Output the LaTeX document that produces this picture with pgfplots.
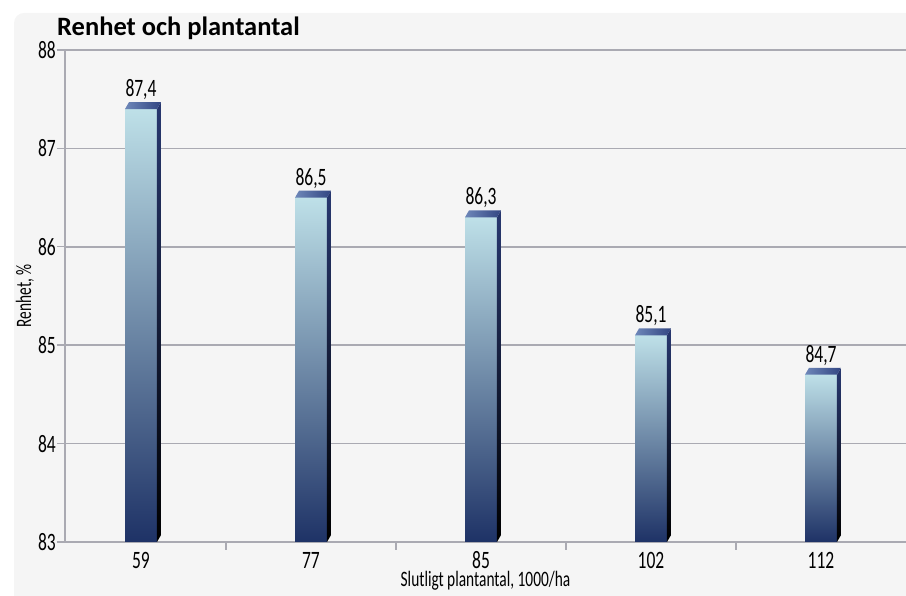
\documentclass[border=0pt]{standalone}
\usepackage{fontspec}
\setmainfont{Carlito}[FakeStretch=0.7]
\newfontfamily\titlefont{Carlito}
\usepackage{pgfplots}
\usepackage{pgfplotstable}
\pgfplotsset{compat=1.18}
\definecolor{bg}{RGB}{245,245,245}
\definecolor{gridc}{RGB}{170,170,178}
\definecolor{barTop}{RGB}{190,224,232}
\definecolor{barMid}{RGB}{110,138,176}
\definecolor{barBot}{RGB}{30,50,102}
\definecolor{sideTop}{RGB}{40,56,112}
\definecolor{topL}{RGB}{110,135,185}
\definecolor{topR}{RGB}{50,70,130}
\pgfplotstableread{
x v
0 87.4
1 86.5
2 86.3
3 85.1
4 84.7
}\datatable
\pgfplotsset{frontbar/.style={ybar, bar width=0.188, draw=none,
  top color=barTop, middle color=barMid, bottom color=barBot,
  point meta=explicit, nodes near coords,
  nodes near coords style={font=\fontsize{25}{25}\selectfont, text=black, anchor=south, inner sep=0pt, yshift=9pt}},
  sideface/.style={draw=none, top color=sideTop, bottom color=black},
  topface/.style={draw=none, left color=topL, right color=topR}}
\begin{document}
\begin{tikzpicture}[x=1pt,y=1pt]
\useasboundingbox (0,0) rectangle (906,596);
\fill[bg, rounded corners=10pt] (14,-20) rectangle (940,583);
\node[anchor=base west, inner sep=0pt, font=\titlefont\bfseries\fontsize{26.5}{26.5}\selectfont] at (57,560) {Renhet och plantantal};
\begin{axis}[
  at={(65pt,54pt)}, anchor=south west, scale only axis,
  width=841pt, height=492pt,
  xmin=-0.447, xmax=4.5, ymin=0, ymax=5,
  y filter/.expression={y-83},
  axis x line*=bottom, axis y line*=left,
  axis line style={gridc, line width=1.6pt, -},
  ymajorgrids, grid style={gridc, line width=1.6pt},
  tick align=outside, major tick length=8pt,
  tick style={gridc, line width=1.4pt},
  ytick={0,1,2,3,4,5}, yticklabels={83,84,85,86,87,88},
  xtick={0.5,1.5,2.5,3.5}, xticklabels={},
  extra x ticks={0,1,2,3,4}, extra x tick labels={59,77,85,102,112},
  extra x tick style={major tick length=0pt, grid=none},
  ticklabel style={font=\fontsize{25}{25}\selectfont, text=black},
  yticklabel style={inner sep=1pt},
  xticklabel style={inner sep=0pt, text height=16pt, text depth=0pt, yshift=-10pt},
  /pgf/number format/.cd, use comma, fixed, fixed zerofill, precision=1, assume math mode=true,
  /pgfplots/.cd,
  xlabel={Slutligt plantantal, 1000/ha},
  ylabel={Renhet, \%},
  x label style={font=\fontsize{22}{22}\selectfont, text=black, inner sep=0pt, text height=15pt, text depth=4pt, at={(axis description cs:0.5,-0.08)}, anchor=center},
  y label style={font=\fontsize{22}{22}\selectfont, text=black, at={(axis description cs:-0.0476,0.5)}, anchor=center},
]
\addplot[frontbar, restrict x to domain=-0.1:0.1] table[x=x, y=v, meta=v] {\datatable};
\addplot[frontbar, restrict x to domain=0.9:1.1] table[x=x, y=v, meta=v] {\datatable};
\addplot[frontbar, restrict x to domain=1.9:2.1] table[x=x, y=v, meta=v] {\datatable};
\addplot[frontbar, restrict x to domain=2.9:3.1] table[x=x, y=v, meta=v] {\datatable};
\addplot[frontbar, restrict x to domain=3.9:4.1] table[x=x, y=v, meta=v] {\datatable};
% side faces
\addplot[sideface] coordinates {(0.094,83) (0.1175,83.07) (0.1175,87.47) (0.094,87.4)};
\addplot[sideface] coordinates {(1.094,83) (1.1175,83.07) (1.1175,86.57) (1.094,86.5)};
\addplot[sideface] coordinates {(2.094,83) (2.1175,83.07) (2.1175,86.37) (2.094,86.3)};
\addplot[sideface] coordinates {(3.094,83) (3.1175,83.07) (3.1175,85.17) (3.094,85.1)};
\addplot[sideface] coordinates {(4.094,83) (4.1175,83.07) (4.1175,84.77) (4.094,84.7)};
% top faces
\addplot[topface] coordinates {(-0.094,87.4) (0.094,87.4) (0.1175,87.47) (-0.0705,87.47)};
\addplot[topface] coordinates {(0.906,86.5) (1.094,86.5) (1.1175,86.57) (0.9295,86.57)};
\addplot[topface] coordinates {(1.906,86.3) (2.094,86.3) (2.1175,86.37) (1.9295,86.37)};
\addplot[topface] coordinates {(2.906,85.1) (3.094,85.1) (3.1175,85.17) (2.9295,85.17)};
\addplot[topface] coordinates {(3.906,84.7) (4.094,84.7) (4.1175,84.77) (3.9295,84.77)};
\end{axis}
\end{tikzpicture}
\end{document}
